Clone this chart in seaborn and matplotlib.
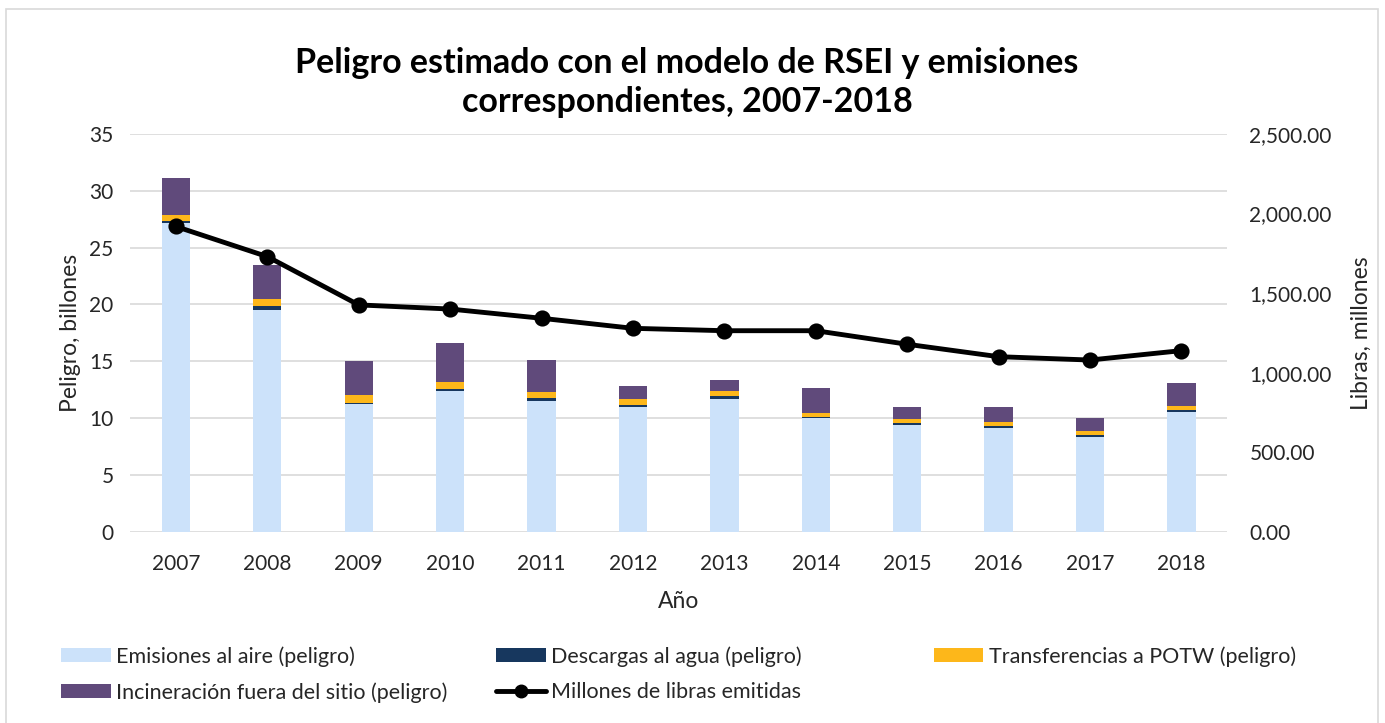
import numpy as np
import pandas as pd
import matplotlib
matplotlib.use("Agg")
import matplotlib.pyplot as plt
import seaborn as sns
from matplotlib.patches import Rectangle, Patch
from matplotlib.lines import Line2D
from matplotlib.ticker import FuncFormatter

# --- datos ---
anios = ['2007', '2008', '2009', '2010', '2011', '2012',
         '2013', '2014', '2015', '2016', '2017', '2018']
aire = [27.15, 19.5, 11.25, 12.4, 11.55, 10.97, 11.73, 10.0, 9.44, 9.15, 8.38, 10.58]
agua = [0.15, 0.4, 0.12, 0.15, 0.2, 0.2, 0.23, 0.12, 0.12, 0.17, 0.15, 0.15]
potw = [0.55, 0.55, 0.7, 0.65, 0.6, 0.5, 0.44, 0.33, 0.38, 0.38, 0.38, 0.38]
incineracion = [3.3, 3.0, 2.96, 3.4, 2.8, 1.2, 0.97, 2.2, 1.05, 1.3, 1.09, 2.02]
millones_libras = [1918, 1729, 1426, 1400, 1342, 1279, 1264, 1264, 1179, 1101, 1080, 1139]

series = ['Emisiones al aire (peligro)', 'Descargas al agua (peligro)',
          'Transferencias a POTW (peligro)', 'Incineración fuera del sitio (peligro)']
colores = ['#CCE2FA', '#17375E', '#FDB71A', '#604A7B']

df = pd.DataFrame({'Año': anios, 'aire': aire, 'agua': agua,
                   'potw': potw, 'incin': incineracion, 'libras': millones_libras})
# acumulados para apilar (se dibuja del mas alto al mas bajo)
df['c1'] = df['aire']
df['c2'] = df['c1'] + df['agua']
df['c3'] = df['c2'] + df['potw']
df['c4'] = df['c3'] + df['incin']

sns.set_theme(style='white')
plt.rcParams['font.family'] = ['Lato', 'DejaVu Sans']

fig = plt.figure(figsize=(13.85, 7.23), dpi=100)
ax = fig.add_axes([0.094, 0.264, 0.792, 0.551])

for col, color in zip(['c4', 'c3', 'c2', 'c1'], colores[::-1]):
    sns.barplot(data=df, x='Año', y=col, color=color, width=0.31,
                linewidth=0, saturation=1, ax=ax, zorder=2)

ax.set_ylim(0, 35)
ax.set_yticks(range(0, 36, 5))
ax.grid(axis='y', color='#D9D9D9', linewidth=1.2, zorder=0)
ax.set_axisbelow(True)
sns.despine(ax=ax, left=True, bottom=True)
ax.tick_params(axis='both', length=0, labelsize=15, colors='#262626')
ax.tick_params(axis='x', pad=16)
ax.tick_params(axis='y', pad=12)
ax.set_ylabel('Peligro, billones', fontsize=16.5, color='#262626', labelpad=6)
ax.set_xlabel('Año', fontsize=16.5, color='#262626', labelpad=12)

ax2 = ax.twinx()
sns.pointplot(data=df, x='Año', y='libras', color='black', markers='o',
              markersize=9, linewidth=3.5, ax=ax2)
ax2.set_ylim(0, 2500)
ax2.set_yticks(range(0, 2501, 500))
ax2.yaxis.set_major_formatter(FuncFormatter(lambda v, p: f'{v:,.2f}'))
sns.despine(ax=ax2, left=True, bottom=True, right=True)
ax2.tick_params(axis='y', length=0, labelsize=15, colors='#262626', pad=16)
ax2.set_ylabel('Libras, millones', fontsize=16.5, color='#262626', labelpad=14)
ax2.set_xlabel('')
ax.set_xlim(-0.5, len(anios) - 0.5)

fig.text(0.496, 0.886, 'Peligro estimado con el modelo de RSEI y emisiones\ncorrespondientes, 2007-2018',
         ha='center', va='center', fontsize=24.5, fontweight='bold',
         linespacing=1.3, color='black')

# leyenda en tres columnas, como en Excel
h = [Patch(facecolor=c, edgecolor='none') for c in colores]
hl = Line2D([], [], color='black', linewidth=3.5, marker='o', markersize=9)
kw = dict(frameon=False, fontsize=15.5, handlelength=2.3, handleheight=0.6,
          handletextpad=0.25, labelspacing=0.7, borderaxespad=0, labelcolor='#262626')
fig.legend([h[0], h[3]], [series[0], series[3]], loc='upper left',
           bbox_to_anchor=(0.038, 0.118), **kw)
fig.legend([h[1], hl], [series[1], 'Millones de libras emitidas'], loc='upper left',
           bbox_to_anchor=(0.352, 0.118), **kw)
fig.legend([h[2]], [series[2]], loc='upper left',
           bbox_to_anchor=(0.668, 0.118), **kw)

fig.patches.append(Rectangle((0.004, -0.01), 0.991, 0.998, transform=fig.transFigure,
                             fill=False, edgecolor='#D9D9D9', linewidth=1.2))

fig.savefig('out.png', dpi=100)
